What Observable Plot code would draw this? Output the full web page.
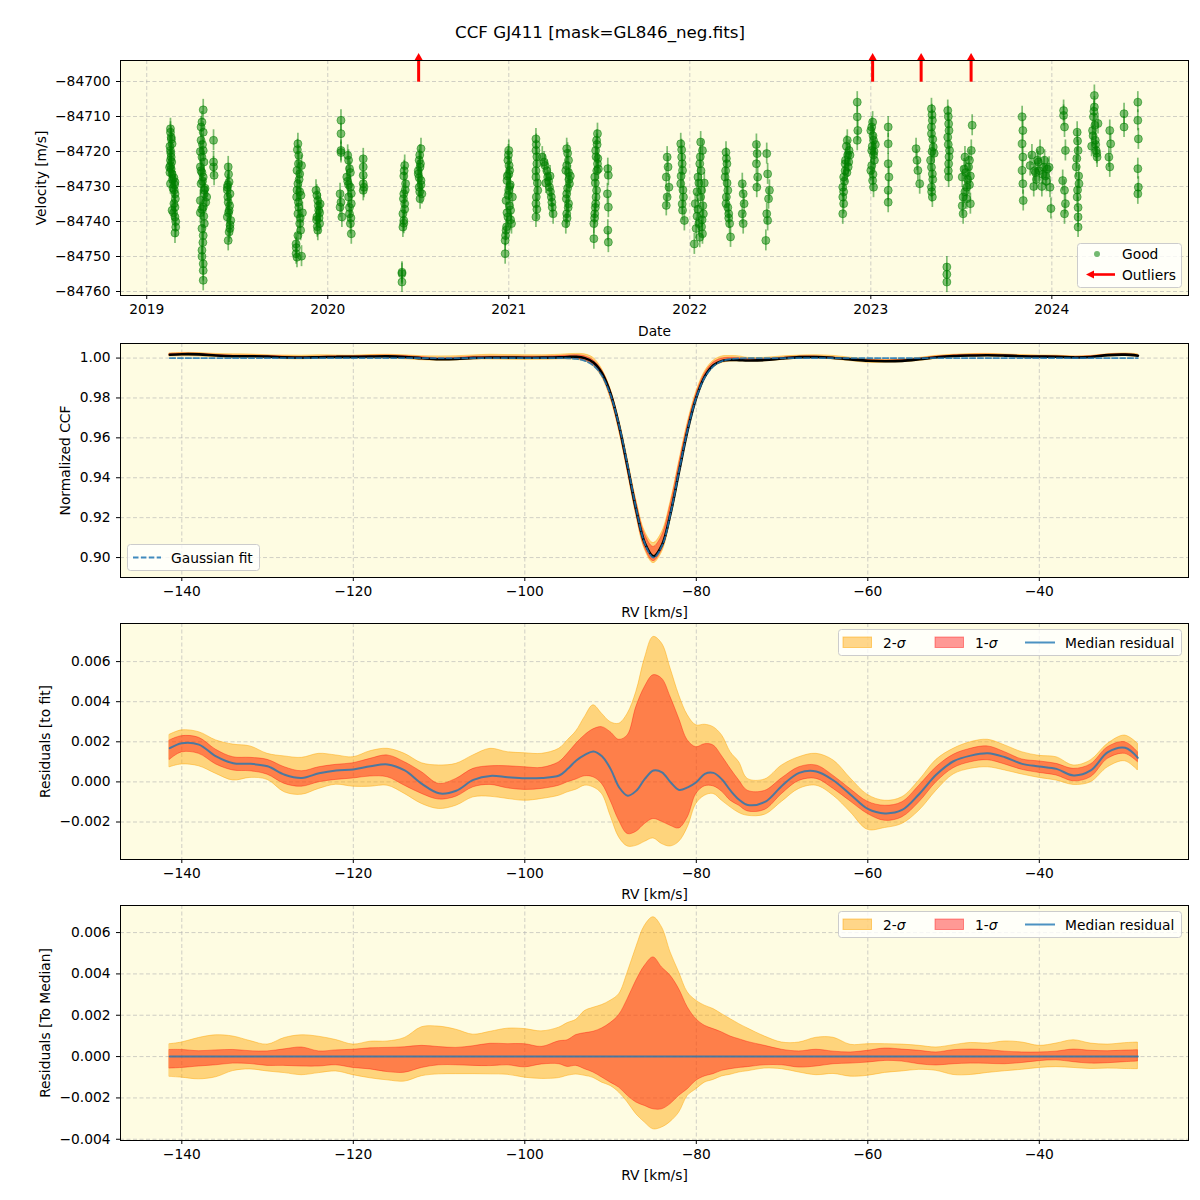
<!DOCTYPE html>
<html><head><meta charset="utf-8">
<script src="https://cdn.jsdelivr.net/npm/d3@7"></script>
<script src="https://cdn.jsdelivr.net/npm/@observablehq/plot@0.6"></script>
<style>
body{margin:0;background:#fff;font-family:"DejaVu Sans",sans-serif;}
#fig{position:relative;width:1200px;height:1200px;overflow:hidden;background:#fff;}
#fig svg{overflow:visible;}
</style></head>
<body><div id="fig"></div>
<script>
// ---------------- DATA ----------------
const titleText = "CCF GJ411 [mask=GL846_neg.fits]";

// Panel 1: velocity time series. [decimal year, velocity - velBase (m/s)]
const velBase = -84700;
const velErr = 3;
const goodObs = [
  [2019.131,-13.5],[2019.131,-14.5],[2019.135,-15.9],[2019.140,-17.8],[2019.131,-19.7],[2019.135,-21.6],[2019.131,-24.0],[2019.140,-26.4],[2019.131,-22.5],[2019.135,-25.0],[2019.156,-28.7],[2019.131,-29.2],[2019.156,-32.1],[2019.150,-34.9],[2019.156,-35.9],[2019.140,-36.8],[2019.156,-38.7],[2019.160,-41.6],[2019.156,-43.3],[2019.145,-30.5],[2019.150,-27.5],
  [2019.128,-18.5],[2019.133,-20.5],[2019.138,-23.0],[2019.128,-26.0],[2019.142,-28.0],[2019.152,-31.0],[2019.158,-33.5],[2019.148,-37.5],[2019.160,-40.0],[2019.136,-16.5],[2019.126,-24.5],[2019.154,-29.5],
  [2019.312,-8.1],[2019.305,-11.6],[2019.312,-14.5],[2019.300,-16.8],[2019.312,-19.7],[2019.305,-21.6],[2019.296,-24.4],[2019.312,-27.3],[2019.300,-29.2],[2019.318,-32.1],[2019.296,-34.0],[2019.312,-35.9],[2019.331,-33.0],[2019.318,-40.6],[2019.312,-44.0],[2019.305,-48.2],[2019.312,-52.1],[2019.312,-54.0],[2019.312,-56.8],[2019.296,-37.5],[2019.322,-30.5],[2019.305,-26.0],
  [2019.300,-13.0],[2019.308,-18.0],[2019.316,-23.0],[2019.300,-25.5],[2019.308,-28.5],[2019.318,-31.0],[2019.304,-36.5],[2019.315,-38.5],[2019.305,-42.0],[2019.310,-46.0],[2019.305,-50.0],[2019.326,-34.5],[2019.296,-20.0],
  [2019.369,-16.8],[2019.369,-23.0],[2019.369,-24.4],[2019.372,-26.8],
  [2019.450,-24.4],[2019.455,-28.7],[2019.445,-30.2],[2019.460,-32.1],[2019.450,-34.5],[2019.455,-36.8],[2019.445,-38.7],[2019.464,-39.7],[2019.455,-43.0],[2019.450,-45.4],[2019.460,-41.0],[2019.445,-31.0],
  [2019.452,-26.5],[2019.448,-33.0],[2019.458,-35.5],[2019.452,-37.5],[2019.448,-29.5],[2019.460,-42.0],
  [2019.835,-17.8],[2019.840,-21.1],[2019.830,-25.4],[2019.845,-26.4],[2019.835,-29.2],[2019.828,-33.0],[2019.840,-35.9],[2019.835,-37.8],[2019.845,-40.6],[2019.850,-42.5],[2019.825,-46.4],[2019.825,-49.2],[2019.830,-50.2],[2019.855,-24.0],[2019.860,-37.5],[2019.855,-49.9],[2019.845,-31.5],
  [2019.832,-19.5],[2019.838,-23.5],[2019.842,-28.0],[2019.830,-31.0],[2019.838,-34.5],[2019.848,-39.0],[2019.835,-44.0],[2019.826,-47.5],[2019.852,-32.5],
  [2019.935,-31.1],[2019.945,-34.0],[2019.950,-36.8],[2019.940,-38.7],[2019.955,-40.6],[2019.945,-42.5],[2019.958,-35.0],[2019.938,-39.5],
  [2019.940,-32.5],[2019.948,-35.5],[2019.955,-37.5],[2019.942,-41.5],[2019.952,-39.0],
  [2020.073,-11.1],[2020.073,-14.9],[2020.073,-19.7],[2020.073,-20.3],[2020.068,-32.1],[2020.073,-34.5],[2020.068,-35.9],[2020.078,-38.7],
  [2020.110,-21.1],[2020.120,-24.9],[2020.105,-27.3],[2020.125,-30.2],[2020.115,-33.0],[2020.130,-34.9],[2020.120,-37.8],[2020.125,-40.6],[2020.130,-43.5],[2020.110,-28.5],
  [2020.115,-22.5],[2020.125,-26.0],[2020.115,-29.5],[2020.130,-32.0],[2020.120,-36.0],[2020.128,-39.0],
  [2020.196,-22.1],[2020.196,-24.4],[2020.196,-26.8],[2020.196,-29.2],[2020.200,-30.2],[2020.196,-31.1],
  [2020.425,-24.0],[2020.420,-27.0],[2020.430,-29.2],[2020.420,-32.1],[2020.425,-34.9],[2020.415,-37.8],[2020.420,-39.7],[2020.415,-41.6],[2020.410,-54.5],[2020.410,-54.9],[2020.410,-57.3],
  [2020.422,-25.5],[2020.428,-31.0],[2020.418,-33.5],[2020.425,-36.5],[2020.420,-40.5],
  [2020.515,-19.2],[2020.505,-22.5],[2020.510,-24.4],[2020.500,-26.4],[2020.515,-28.3],[2020.505,-30.2],[2020.520,-32.1],[2020.510,-33.5],[2020.500,-25.5],
  [2020.508,-21.0],[2020.512,-23.5],[2020.505,-27.5],[2020.515,-29.5],[2020.508,-31.5],
  [2021.000,-19.7],[2020.995,-22.5],[2021.005,-25.4],[2020.990,-28.3],[2021.000,-31.1],[2020.985,-34.0],[2021.010,-36.8],[2020.995,-38.7],[2021.015,-40.6],[2020.985,-42.5],[2020.980,-45.4],[2020.980,-49.2],[2021.005,-30.0],[2021.020,-33.0],
  [2020.998,-21.0],[2021.002,-24.0],[2020.992,-27.0],[2021.008,-29.5],[2020.996,-32.5],[2021.004,-35.5],[2020.990,-37.5],[2021.010,-39.5],[2020.988,-41.5],[2020.982,-44.0],[2021.000,-26.5],
  [2021.150,-16.4],[2021.150,-19.7],[2021.155,-23.5],[2021.150,-27.3],[2021.160,-31.1],[2021.150,-34.9],[2021.150,-38.7],[2021.185,-21.6],[2021.200,-24.0],[2021.215,-27.3],[2021.225,-30.2],[2021.235,-33.0],[2021.240,-35.9],[2021.245,-37.8],[2021.205,-29.0],
  [2021.152,-18.0],[2021.155,-21.5],[2021.150,-25.5],[2021.158,-29.0],[2021.152,-33.0],[2021.155,-36.5],[2021.195,-23.0],[2021.210,-25.5],[2021.220,-28.5],[2021.230,-31.5],[2021.238,-34.5],[2021.228,-27.0],
  [2021.320,-19.2],[2021.330,-22.5],[2021.315,-25.4],[2021.335,-29.2],[2021.320,-32.1],[2021.330,-34.9],[2021.320,-37.8],[2021.315,-40.6],[2021.340,-27.0],
  [2021.325,-20.5],[2021.320,-24.0],[2021.330,-26.0],[2021.325,-30.5],[2021.318,-33.5],[2021.328,-36.0],[2021.322,-39.0],[2021.332,-28.0],
  [2021.490,-14.9],[2021.485,-16.8],[2021.480,-19.7],[2021.490,-23.5],[2021.475,-27.3],[2021.485,-31.1],[2021.480,-34.9],[2021.475,-37.8],[2021.470,-40.6],[2021.470,-44.9],[2021.495,-25.0],
  [2021.488,-18.0],[2021.482,-21.5],[2021.486,-25.5],[2021.478,-29.0],[2021.482,-33.0],[2021.478,-36.0],[2021.474,-39.0],[2021.492,-22.0],
  [2021.547,-24.9],[2021.550,-26.8],[2021.545,-32.1],[2021.550,-35.9],[2021.547,-42.5],[2021.550,-45.9],
  [2021.875,-21.6],[2021.880,-24.4],[2021.870,-27.3],[2021.885,-30.2],[2021.875,-33.0],[2021.870,-35.4],
  [2021.950,-17.8],[2021.955,-21.6],[2021.960,-25.4],[2021.950,-29.2],[2021.965,-33.0],[2021.960,-36.8],[2021.970,-39.7],
  [2021.955,-19.5],[2021.958,-23.5],[2021.952,-27.0],[2021.962,-31.0],[2021.958,-35.0],
  [2022.060,-17.3],[2022.070,-19.7],[2022.055,-23.5],[2022.045,-27.3],[2022.065,-31.1],[2022.030,-34.9],[2022.075,-37.8],[2022.050,-40.6],[2022.070,-43.5],[2022.025,-46.4],[2022.080,-29.0],[2022.040,-38.5],[2022.065,-41.5],
  [2022.058,-21.5],[2022.062,-25.5],[2022.050,-29.0],[2022.060,-33.0],[2022.045,-36.5],[2022.068,-39.5],[2022.055,-44.5],[2022.035,-42.0],[2022.072,-35.5],[2022.040,-31.5],
  [2022.200,-20.2],[2022.205,-23.5],[2022.195,-27.3],[2022.210,-31.1],[2022.200,-34.9],[2022.215,-37.8],[2022.220,-40.6],[2022.225,-44.4],[2022.290,-29.2],[2022.295,-32.1],[2022.300,-34.9],[2022.290,-37.8],[2022.295,-40.6],
  [2022.202,-22.0],[2022.198,-25.5],[2022.206,-29.0],[2022.202,-33.0],[2022.210,-36.0],[2022.215,-39.0],
  [2022.368,-18.0],[2022.372,-20.6],[2022.368,-23.5],[2022.375,-27.3],[2022.370,-30.2],[2022.425,-20.6],[2022.430,-26.4],[2022.440,-31.1],[2022.435,-33.5],[2022.425,-37.8],[2022.430,-39.7],[2022.420,-45.4],
  [2022.870,-16.8],[2022.880,-19.7],[2022.860,-22.5],[2022.875,-24.4],[2022.850,-27.3],[2022.845,-30.2],[2022.845,-33.0],[2022.850,-34.9],[2022.845,-37.8],[2022.885,-21.0],
  [2022.865,-18.5],[2022.872,-21.0],[2022.858,-23.5],[2022.868,-26.0],[2022.855,-28.5],[2022.850,-31.5],[2022.858,-25.5],[2022.878,-23.0],
  [2022.925,-5.9],[2022.925,-10.1],[2022.928,-14.0],[2022.925,-16.8],
  [2023.010,-11.6],[2023.000,-14.0],[2023.015,-16.8],[2023.005,-19.7],[2023.020,-22.5],[2023.000,-25.4],[2023.010,-28.3],[2023.015,-30.2],[2023.025,-18.0],
  [2023.005,-13.0],[2023.012,-15.5],[2023.008,-18.5],[2023.015,-21.0],[2023.005,-24.0],[2023.012,-26.5],[2023.018,-20.0],
  [2023.096,-13.0],[2023.096,-17.8],[2023.096,-23.5],[2023.100,-27.3],[2023.096,-31.1],[2023.096,-34.5],
  [2023.250,-19.2],[2023.255,-22.5],[2023.260,-25.4],[2023.270,-29.2],
  [2023.335,-7.8],[2023.340,-11.1],[2023.335,-14.9],[2023.345,-18.7],[2023.330,-22.5],[2023.340,-26.4],[2023.335,-30.2],[2023.340,-33.0],[2023.350,-20.5],
  [2023.338,-9.5],[2023.335,-13.0],[2023.342,-16.5],[2023.338,-20.0],[2023.335,-24.5],[2023.342,-28.0],[2023.336,-31.5],
  [2023.425,-8.3],[2023.430,-12.1],[2023.425,-15.9],[2023.435,-19.7],[2023.430,-23.5],[2023.430,-27.3],[2023.420,-53.0],[2023.420,-55.1],[2023.420,-57.3],
  [2023.428,-10.0],[2023.432,-14.0],[2023.428,-18.0],[2023.432,-21.5],[2023.428,-25.5],
  [2023.560,-12.5],[2023.555,-19.7],[2023.520,-21.6],[2023.540,-24.4],[2023.505,-27.3],[2023.530,-30.2],[2023.510,-33.0],[2023.550,-34.9],[2023.510,-37.8],[2023.525,-26.0],
  [2023.545,-22.5],[2023.515,-25.0],[2023.535,-28.0],[2023.520,-31.5],[2023.545,-29.5],[2023.505,-35.5],[2023.530,-33.5],[2023.550,-27.0],
  [2023.836,-10.1],[2023.840,-14.0],[2023.836,-17.8],[2023.840,-21.6],[2023.836,-25.4],[2023.840,-29.2],[2023.842,-34.0],
  [2023.880,-24.0],[2023.890,-21.0],[2023.905,-25.5],[2023.915,-28.0],[2023.925,-23.0],[2023.935,-19.7],[2023.950,-26.5],[2023.960,-22.5],[2023.970,-28.5],[2023.985,-24.5],[2023.990,-30.2],[2023.995,-36.3],[2023.945,-30.0],[2023.900,-30.0],
  [2023.910,-26.0],[2023.930,-25.5],[2023.955,-24.5],[2023.965,-27.0],[2023.975,-25.0],[2023.920,-22.5],
  [2024.065,-8.3],[2024.065,-9.7],[2024.070,-13.0],[2024.075,-19.7],[2024.060,-28.3],[2024.070,-31.1],[2024.075,-34.9],[2024.070,-37.8],
  [2024.140,-14.5],[2024.145,-19.7],[2024.135,-24.4],[2024.150,-29.2],[2024.140,-33.0],[2024.145,-38.7],[2024.145,-41.6],
  [2024.142,-17.0],[2024.138,-22.0],[2024.148,-27.0],[2024.142,-31.0],[2024.145,-36.0],
  [2024.235,-4.0],[2024.235,-7.3],[2024.230,-10.1],[2024.225,-14.0],[2024.240,-16.8],[2024.245,-19.7],[2024.250,-21.6],[2024.220,-18.5],[2024.255,-12.0],
  [2024.232,-8.5],[2024.238,-12.5],[2024.228,-15.5],[2024.242,-18.0],[2024.248,-20.5],
  [2024.320,-14.0],[2024.325,-17.8],[2024.315,-21.6],[2024.320,-24.4],
  [2024.399,-9.2],[2024.399,-13.0],
  [2024.475,-5.9],[2024.475,-11.1],[2024.478,-16.4],[2024.475,-24.9],[2024.478,-30.2],[2024.475,-32.1]
];
const outlierDates = [2020.502, 2023.010, 2023.278, 2023.554];
const outlierArrowFrom = -84700.2;
const outlierArrowTip = -84693.3;
const yearTicks = [2019, 2020, 2021, 2022, 2023, 2024];
const velTicks = [-84760, -84750, -84740, -84730, -84720, -84710, -84700];

// Panels 2-4: RV grid (km/s)
const rvGrid = [
  -141.4, -140, -138, -136, -134, -132, -130, -128, -126, -124, -122, -120, -118, -116, -114, -112, -110, -108, -106, -104, -102, -100, -98, -96,
  -95, -94, -93, -92, -91, -90, -89, -88, -87, -86, -85, -84, -83, -82, -81, -80, -79, -78, -77, -76, -75,
  -74, -72, -70, -68, -66, -64, -62, -60, -58, -56, -54, -52, -50, -48, -46, -44, -42, -40, -38, -36, -34, -32, -30, -28.5
];
const gaussFit = [
  1, 1, 1, 1, 1, 1, 1, 1, 1, 1, 1, 1, 1, 1, 1, 1, 1, 1, 1, 1, 1, 1, 1, 1,
  0.99987, 0.99956, 0.99862, 0.99626, 0.99111, 0.98150, 0.96620, 0.94594, 0.92426, 0.90703, 0.90002, 0.90580, 0.92223, 0.94375, 0.96435, 0.98021, 0.99037, 0.99590, 0.99847, 0.99950, 0.99986,
  0.99996, 1, 1, 1, 1, 1, 1, 1, 1, 1, 1, 1, 1, 1, 1, 1, 1, 1, 1, 1, 1, 1, 1, 1
];
// Residuals to fit (units of 1e-3)
const resFitMed = [
  1.68, 1.93, 1.86, 1.27, 0.93, 0.90, 0.78, 0.36, 0.20, 0.43, 0.57, 0.62, 0.78, 0.87, 0.57, -0.10, -0.57, -0.44, 0.10, 0.30, 0.23, 0.18, 0.20, 0.32,
  0.65, 1.07, 1.35, 1.52, 1.28, 0.65, -0.27, -0.69, -0.44, 0.15, 0.57, 0.48, -0.02, -0.40, -0.27, -0.02, 0.40, 0.45, 0.12, -0.44, -0.89,
  -1.15, -1.00, -0.19, 0.45, 0.52, 0.07, -0.64, -1.35, -1.57, -1.40, -0.60, 0.37, 1.03, 1.31, 1.43, 1.23, 0.90, 0.77, 0.65, 0.32, 0.57, 1.48, 1.70, 1.20
];
const resFitLo1 = [
  1.10, 1.47, 1.40, 0.87, 0.57, 0.53, 0.36, -0.10, -0.24, -0.02, 0.10, 0.17, 0.27, 0.23, -0.19, -0.60, -0.88, -0.74, -0.27, -0.15, -0.32, -0.40, -0.35, -0.19,
  -0.02, 0.12, 0.28, 0.23, -0.10, -0.94, -1.94, -2.60, -2.49, -2.10, -1.85, -1.99, -2.19, -2.32, -1.77, -0.60, -0.22, -0.22, -0.49, -0.94, -1.19,
  -1.47, -1.40, -0.60, 0.05, 0.15, -0.35, -0.98, -1.60, -1.94, -1.77, -1.02, -0.02, 0.68, 0.98, 1.08, 0.87, 0.60, 0.45, 0.32, 0.03, 0.23, 1.15, 1.40, 0.98
];
const resFitHi1 = [
  2.07, 2.28, 2.20, 1.60, 1.23, 1.20, 1.10, 0.73, 0.53, 0.73, 0.85, 0.93, 1.15, 1.32, 0.98, 0.48, -0.10, 0.15, 0.65, 0.78, 0.78, 0.73, 0.70, 0.98,
  1.40, 1.90, 2.32, 2.62, 2.73, 2.48, 2.10, 2.32, 3.73, 4.73, 5.32, 5.15, 4.23, 3.15, 2.07, 1.73, 1.88, 1.82, 1.28, 0.65, 0.07,
  -0.44, -0.45, 0.18, 0.73, 0.82, 0.30, -0.37, -0.99, -1.19, -1.02, -0.19, 0.73, 1.35, 1.65, 1.77, 1.48, 1.12, 1.02, 0.90, 0.65, 0.87, 1.73, 1.98, 1.48
];
const resFitLo2 = [
  0.73, 0.87, 0.78, 0.40, 0.07, 0.20, 0.10, -0.52, -0.64, -0.35, -0.14, -0.24, -0.24, -0.19, -0.60, -1.10, -1.35, -1.19, -0.77, -0.74, -0.85, -0.94, -0.85, -0.69,
  -0.52, -0.39, -0.19, -0.27, -0.60, -1.69, -2.77, -3.22, -3.19, -2.99, -2.82, -3.10, -3.22, -2.99, -2.27, -1.10, -0.69, -0.60, -0.94, -1.27, -1.55,
  -1.69, -1.64, -0.99, -0.35, -0.19, -0.69, -1.52, -2.39, -2.30, -2.10, -1.44, -0.44, 0.37, 0.65, 0.73, 0.57, 0.37, 0.20, 0.07, -0.15, -0.02, 0.73, 1.03, 0.57
];
const resFitHi2 = [
  2.35, 2.57, 2.48, 2.07, 1.86, 1.77, 1.40, 1.27, 1.20, 1.40, 1.32, 1.23, 1.53, 1.65, 1.40, 0.93, 0.82, 0.90, 1.32, 1.65, 1.48, 1.43, 1.40, 1.65,
  2.07, 2.52, 3.23, 3.82, 3.40, 2.98, 2.90, 3.40, 4.48, 6.15, 7.23, 6.90, 5.65, 4.32, 3.32, 2.82, 2.85, 2.73, 2.32, 1.48, 0.98,
  0.15, 0.12, 0.82, 1.23, 1.40, 1.07, 0.17, -0.65, -0.94, -0.77, 0.07, 1.10, 1.65, 1.98, 2.10, 1.82, 1.48, 1.30, 1.23, 0.82, 1.07, 1.90, 2.31, 1.90
];
// Residuals to median (units of 1e-3); the median itself is zero
const resMedLo1 = [
  -0.58, -0.55, -0.48, -0.42, -0.34, -0.36, -0.45, -0.45, -0.48, -0.48, -0.42, -0.55, -0.62, -0.75, -0.78, -0.55, -0.42, -0.42, -0.45, -0.46, -0.42, -0.52, -0.38, -0.37,
  -0.50, -0.45, -0.61, -0.77, -1.01, -1.26, -1.50, -1.90, -2.22, -2.39, -2.55, -2.55, -2.30, -1.90, -1.58, -1.17, -0.96, -0.85, -0.69, -0.61, -0.55,
  -0.51, -0.42, -0.42, -0.53, -0.48, -0.37, -0.34, -0.29, -0.21, -0.24, -0.37, -0.43, -0.37, -0.34, -0.35, -0.37, -0.31, -0.22, -0.18, -0.27, -0.34, -0.32, -0.27, -0.24
];
const resMedHi1 = [
  0.32, 0.32, 0.26, 0.30, 0.32, 0.26, 0.25, 0.35, 0.44, 0.25, 0.30, 0.33, 0.40, 0.42, 0.45, 0.52, 0.46, 0.42, 0.50, 0.62, 0.60, 0.60, 0.47, 0.74,
  0.79, 1.04, 1.13, 1.20, 1.36, 1.62, 2.01, 2.78, 3.67, 4.39, 4.80, 4.31, 3.91, 3.26, 2.38, 1.81, 1.49, 1.33, 1.17, 0.97, 0.84,
  0.71, 0.52, 0.33, 0.25, 0.33, 0.24, 0.20, 0.28, 0.39, 0.34, 0.28, 0.20, 0.31, 0.34, 0.31, 0.24, 0.20, 0.20, 0.24, 0.34, 0.28, 0.26, 0.29, 0.31
];
const resMedLo2 = [
  -0.98, -1.02, -1.10, -1.00, -0.70, -0.62, -0.72, -0.80, -0.90, -0.80, -0.72, -0.90, -1.05, -1.15, -1.21, -0.95, -0.86, -0.85, -0.85, -0.86, -0.88, -1.02, -1.08, -1.04,
  -0.93, -0.87, -0.93, -1.03, -1.26, -1.42, -1.74, -2.22, -2.79, -3.19, -3.52, -3.43, -3.16, -2.71, -1.90, -1.58, -1.26, -1.13, -0.96, -0.88, -0.77,
  -0.71, -0.58, -0.61, -0.77, -0.90, -0.84, -0.97, -0.93, -0.79, -0.72, -0.64, -0.69, -0.89, -0.89, -0.79, -0.71, -0.64, -0.55, -0.51, -0.55, -0.60, -0.58, -0.60, -0.61
];
const resMedHi2 = [
  0.60, 0.68, 0.90, 1.03, 0.97, 0.75, 0.58, 0.90, 1.03, 0.96, 0.80, 0.58, 0.72, 0.73, 0.90, 1.42, 1.45, 1.30, 1.06, 1.20, 1.35, 1.33, 1.22, 1.40,
  1.62, 1.78, 2.20, 2.36, 2.49, 2.70, 3.02, 4.07, 5.28, 6.33, 6.74, 6.25, 5.04, 4.07, 3.10, 2.70, 2.46, 2.30, 2.05, 1.81, 1.57,
  1.36, 0.97, 0.68, 0.68, 0.91, 0.91, 0.57, 0.60, 0.60, 0.58, 0.52, 0.44, 0.55, 0.66, 0.63, 0.73, 0.68, 0.52, 0.63, 0.79, 0.63, 0.58, 0.65, 0.68
];
const rvTicks = [-140, -120, -100, -80, -60, -40];
const ccfTicks = [0.90, 0.92, 0.94, 0.96, 0.98, 1.00];
const resFitTicks = [-0.002, 0, 0.002, 0.004, 0.006];
const resMedTicks = [-0.004, -0.002, 0, 0.002, 0.004, 0.006];

// ---------------- TABLES ----------------
const good = goodObs.map(([t, dv]) => ({t, v: velBase + dv}));
const outliers = outlierDates.map(t => ({t, from: outlierArrowFrom, tip: outlierArrowTip}));
const rows = rvGrid.map((rv, i) => ({
  rv,
  fit: gaussFit[i],
  fMed: resFitMed[i] / 1000, fLo1: resFitLo1[i] / 1000, fHi1: resFitHi1[i] / 1000, fLo2: resFitLo2[i] / 1000, fHi2: resFitHi2[i] / 1000,
  mLo1: resMedLo1[i] / 1000, mHi1: resMedHi1[i] / 1000, mLo2: resMedLo2[i] / 1000, mHi2: resMedHi2[i] / 1000
})).map(d => ({...d,
  cMed: d.fit + d.fMed, cLo1: d.fit + d.fLo1, cHi1: d.fit + d.fHi1, cLo2: d.fit + d.fLo2, cHi2: d.fit + d.fHi2, zero: 0
}));

// ---------------- STYLE ----------------
const BG = "#fefce2";
const STYLE = {fontFamily: "DejaVu Sans, sans-serif", fontSize: "13.8px", color: "black", background: "transparent", overflow: "visible"};
const GRID = {stroke: "#b0b0b0", strokeOpacity: 0.75, strokeDasharray: "4,2.5", strokeWidth: 0.8};
const ORANGE = "orange", RED = "red", BLUE = "#1f77b4";
const fmtMinus = n => d => (d < 0 ? "\u2212" : "") + Math.abs(d).toFixed(n);
const CURVE = "catmull-rom";

const fig = document.getElementById("fig");
function place(el, top) {
  el.style.position = "absolute"; el.style.left = "0px"; el.style.top = top + "px";
  el.style.overflow = "visible";
  fig.appendChild(el);
}

// ---------------- PANEL 1 ----------------
place(Plot.plot({
  width: 1200, height: 300, marginLeft: 120, marginRight: 12, marginTop: 20, marginBottom: 45,
  style: STYLE,
  x: {domain: [2018.855, 2024.755], ticks: yearTicks, tickFormat: d => String(d), tickSize: 4, tickPadding: 5,
      label: "Date", labelAnchor: "center", labelArrow: "none", labelOffset: 40},
  y: {domain: [-84761.14, -84694], ticks: velTicks, tickFormat: fmtMinus(0), tickSize: 4, tickPadding: 6,
      label: "Velocity [m/s]", labelAnchor: "center", labelArrow: "none", labelOffset: 84},
  marks: [
    Plot.frame({fill: BG}),
    Plot.gridX(yearTicks, GRID),
    Plot.gridY(velTicks, GRID),
    Plot.ruleX(good, {x: "t", y1: d => d.v - velErr, y2: d => d.v + velErr, stroke: "green", strokeOpacity: 0.5, strokeWidth: 1.7}),
    Plot.dot(good, {x: "t", y: "v", r: 4, fill: "green", fillOpacity: 0.5, stroke: "green", strokeOpacity: 0.5, strokeWidth: 1}),
    Plot.ruleX(outliers, {x: "t", y1: "from", y2: "tip", stroke: RED, strokeWidth: 3}),
    Plot.dot(outliers, {x: "t", y: "tip", symbol: "triangle", r: 3.2, fill: RED}),
    Plot.frame({stroke: "black"})
  ]
}), 40);

// ---------------- PANEL 2-4 helper ----------------
function rvPanel(top, height, marginTop, marginBottom, yDomain, yTicks, yFmt, yLabel, labelOffset, marks) {
  place(Plot.plot({
    width: 1200, height, marginLeft: 120, marginRight: 12, marginTop, marginBottom,
    style: STYLE,
    x: {domain: [-147.15, -22.6], ticks: rvTicks, tickFormat: fmtMinus(0), tickSize: 4, tickPadding: 5,
        label: "RV [km/s]", labelAnchor: "center", labelArrow: "none", labelOffset: 39},
    y: {domain: yDomain, ticks: yTicks, tickFormat: yFmt, tickSize: 4, tickPadding: 6,
        label: yLabel, labelAnchor: "center", labelArrow: "none", labelOffset},
    marks: [Plot.frame({fill: BG}), Plot.gridX(rvTicks, GRID), Plot.gridY(yTicks, GRID), ...marks, Plot.frame({stroke: "black"})]
  }), top);
}
function bands(lo2, hi2, lo1, hi1) {
  return [
    Plot.areaY(rows, {x: "rv", y1: lo2, y2: hi2, fill: ORANGE, fillOpacity: 0.45, stroke: ORANGE, strokeOpacity: 0.45, strokeWidth: 1, curve: CURVE}),
    Plot.areaY(rows, {x: "rv", y1: lo1, y2: hi1, fill: RED, fillOpacity: 0.4, stroke: RED, strokeOpacity: 0.35, strokeWidth: 1, curve: CURVE})
  ];
}

// Panel 2: normalized CCF
rvPanel(340, 280, 3, 43, [0.890, 1.0073], ccfTicks, fmtMinus(2), "Normalized CCF", 60, [
  ...bands("cLo2", "cHi2", "cLo1", "cHi1"),
  Plot.lineY(rows, {x: "rv", y: "cMed", stroke: "black", strokeWidth: 2.6, curve: CURVE}),
  Plot.lineY(rows, {x: "rv", y: "fit", stroke: BLUE, strokeOpacity: 0.85, strokeWidth: 1.8, strokeDasharray: "5.5,2.4", curve: CURVE})
]);

// Panel 3: residuals to fit
rvPanel(620, 280, 3, 41, [-0.00387, 0.0079], resFitTicks, fmtMinus(3), "Residuals [to fit]", 80, [
  ...bands("fLo2", "fHi2", "fLo1", "fHi1"),
  Plot.lineY(rows, {x: "rv", y: "fMed", stroke: BLUE, strokeOpacity: 0.8, strokeWidth: 2, curve: CURVE})
]);

// Panel 4: residuals to median
rvPanel(900, 300, 5, 60, [-0.00406, 0.00731], resMedTicks, fmtMinus(3), "Residuals [To Median]", 80, [
  ...bands("mLo2", "mHi2", "mLo1", "mHi1"),
  Plot.lineY(rows, {x: "rv", y: "zero", stroke: BLUE, strokeOpacity: 0.8, strokeWidth: 2})
]);

// ---------------- TITLE & LEGENDS ----------------
const ov = d3.create("svg").attr("width", 1200).attr("height", 1200)
  .style("position", "absolute").style("left", "0px").style("top", "0px").style("pointer-events", "none")
  .style("font-family", "DejaVu Sans, sans-serif").style("font-size", "13.8px");
ov.append("text").attr("x", 600).attr("y", 32).attr("text-anchor", "middle").attr("dominant-baseline", "central")
  .style("font-size", "16.7px").text(titleText);

function legendBox(x, y, w, h) {
  ov.append("rect").attr("x", x).attr("y", y).attr("width", w).attr("height", h).attr("rx", 3)
    .attr("fill", "white").attr("fill-opacity", 0.8).attr("stroke", "#cccccc").attr("stroke-width", 1);
}
function legendText(x, y, str, italicTail) {
  const t = ov.append("text").attr("x", x).attr("y", y).attr("dominant-baseline", "central").text(str);
  if (italicTail) t.append("tspan").style("font-style", "italic").text(italicTail);
}

// Legend 1
legendBox(1077.5, 243.5, 104, 44);
ov.append("circle").attr("cx", 1097).attr("cy", 254).attr("r", 3).attr("fill", "green").attr("fill-opacity", 0.55);
legendText(1122, 254, "Good");
ov.append("line").attr("x1", 1115).attr("x2", 1092).attr("y1", 274.5).attr("y2", 274.5).attr("stroke", RED).attr("stroke-width", 2.6);
ov.append("polygon").attr("points", "1086,274.5 1094,270.5 1094,278.5").attr("fill", RED);
legendText(1122, 274.5, "Outliers");

// Legend 2
legendBox(127.5, 544.5, 132, 26);
ov.append("line").attr("x1", 133).attr("x2", 161).attr("y1", 557.5).attr("y2", 557.5).attr("stroke", BLUE)
  .attr("stroke-opacity", 0.85).attr("stroke-width", 1.8).attr("stroke-dasharray", "5.5,2.4");
legendText(171, 557.5, "Gaussian fit");

// Legends 3 & 4
function sigmaLegend(y0) {
  legendBox(838.5, y0, 343, 26);
  const cy = y0 + 13;
  ov.append("rect").attr("x", 843).attr("y", cy - 5.5).attr("width", 28.5).attr("height", 10.5)
    .attr("fill", ORANGE).attr("fill-opacity", 0.45).attr("stroke", ORANGE).attr("stroke-opacity", 0.5);
  legendText(883, cy, "2-", "\u03c3");
  ov.append("rect").attr("x", 935).attr("y", cy - 5.5).attr("width", 28.5).attr("height", 10.5)
    .attr("fill", RED).attr("fill-opacity", 0.4).attr("stroke", RED).attr("stroke-opacity", 0.4);
  legendText(975, cy, "1-", "\u03c3");
  ov.append("line").attr("x1", 1025).attr("x2", 1055).attr("y1", cy).attr("y2", cy).attr("stroke", BLUE)
    .attr("stroke-opacity", 0.8).attr("stroke-width", 2);
  legendText(1065, cy, "Median residual");
}
sigmaLegend(629.5);
sigmaLegend(911.5);

fig.appendChild(ov.node());
</script></body></html>
